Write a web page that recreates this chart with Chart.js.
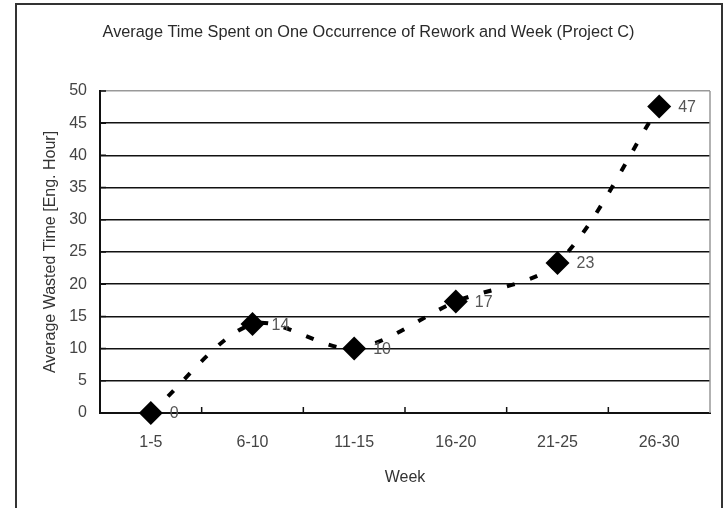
<!DOCTYPE html>
<html>
<head>
<meta charset="utf-8">
<script src="https://cdn.jsdelivr.net/npm/chart.js@4"></script>
<style>
html,body{margin:0;padding:0;background:#fff;}
canvas{display:block;}
</style>
</head>
<body>
<canvas id="c" width="725" height="508"></canvas>
<script>
const categories = ['1-5', '6-10', '11-15', '16-20', '21-25', '26-30'];
const wastedTime = [0, 13.8, 10, 17.3, 23.3, 47.6];
const pointLabels = ['0', '14', '10', '17', '23', '47'];
const yTicks = [0, 5, 10, 15, 20, 25, 30, 35, 40, 45, 50];

const FONT = "'Liberation Sans', Arial, sans-serif";

const framePlugin = {
  id: 'frame',
  beforeDraw(chart) {
    const ctx = chart.ctx;
    ctx.save();
    ctx.fillStyle = '#fff';
    ctx.fillRect(0, 0, chart.width, chart.height);
    ctx.strokeStyle = '#333';
    ctx.lineWidth = 2;
    ctx.beginPath();
    ctx.moveTo(16, chart.height);
    ctx.lineTo(16, 4);
    ctx.lineTo(722, 4);
    ctx.lineTo(722, chart.height);
    ctx.stroke();
    ctx.restore();
  },
  beforeDatasetsDraw(chart) {
    const ctx = chart.ctx;
    const a = chart.chartArea;
    const xs = chart.scales.x;
    const ys = chart.scales.y;
    ctx.save();
    ctx.strokeStyle = '#999';
    ctx.lineWidth = 1.5;
    ctx.beginPath();
    ctx.moveTo(a.right, a.top);
    ctx.lineTo(a.right, a.bottom);
    ctx.stroke();
    ctx.strokeStyle = '#111';
    ctx.lineWidth = 1.5;
    ctx.beginPath();
    for (let i = 1; i < categories.length; i++) {
      const x = (xs.getPixelForTick(i - 1) + xs.getPixelForTick(i)) / 2;
      ctx.moveTo(x, a.bottom);
      ctx.lineTo(x, a.bottom - 6);
    }
    yTicks.forEach(v => {
      const y = ys.getPixelForValue(v);
      ctx.moveTo(a.left, y);
      ctx.lineTo(a.left + 6, y);
    });
    ctx.stroke();
    ctx.restore();
  },
  afterDatasetsDraw(chart) {
    const ctx = chart.ctx;
    const meta = chart.getDatasetMeta(0);
    ctx.save();
    ctx.font = '16px ' + FONT;
    ctx.fillStyle = '#555';
    ctx.textAlign = 'left';
    ctx.textBaseline = 'middle';
    meta.data.forEach((pt, i) => {
      ctx.fillText(pointLabels[i], pt.x + 19, pt.y + 1);
    });
    ctx.restore();
  }
};

new Chart(document.getElementById('c'), {
  type: 'line',
  data: {
    labels: categories,
    datasets: [{
      data: wastedTime,
      clip: false,
      borderColor: '#000',
      borderWidth: 4,
      borderDash: [8, 16],
      borderCapStyle: 'butt',
      tension: 0.3,
      fill: false,
      pointStyle: 'rectRot',
      pointRadius: 12,
      pointHoverRadius: 12,
      pointBackgroundColor: '#000',
      pointBorderColor: '#000',
      pointBorderWidth: 0
    }]
  },
  options: {
    responsive: false,
    animation: false,
    events: [],
    layout: { padding: { left: 27, right: 15, top: 0, bottom: 0 } },
    plugins: {
      legend: { display: false },
      tooltip: { enabled: false },
      title: {
        display: true,
        text: 'Average Time Spent on One Occurrence of Rework and Week (Project C)',
        color: '#2a2a2a',
        font: { family: FONT, size: 16.3, weight: 'normal', lineHeight: 1.2 },
        padding: { top: 23.2, bottom: 48.2 }
      }
    },
    scales: {
      x: {
        type: 'category',
        offset: true,
        afterFit(scale) { scale.height = 95; },
        grid: { display: false, drawTicks: false },
        border: { display: true, color: '#111', width: 2 },
        ticks: {
          color: '#444',
          padding: 20.4,
          font: { family: FONT, size: 16, lineHeight: 1.2 }
        },
        title: {
          display: true,
          text: 'Week',
          color: '#333',
          font: { family: FONT, size: 16, lineHeight: 1.2 },
          padding: { top: 0, bottom: 20.4 }
        }
      },
      y: {
        min: 0,
        max: 50,
        afterFit(scale) { scale.width = 73; },
        afterBuildTicks(scale) { scale.ticks = yTicks.map(v => ({ value: v })); },
        grid: {
          drawTicks: false,
          color: ctx => (ctx.tick && ctx.tick.value === 50) ? '#999' : '#111',
          lineWidth: 1.5
        },
        border: { display: true, color: '#111', width: 2 },
        ticks: {
          color: '#444',
          padding: 13,
          font: { family: FONT, size: 16, lineHeight: 1.2 }
        },
        title: {
          display: true,
          text: 'Average Wasted Time [Eng. Hour]',
          color: '#333',
          font: { family: FONT, size: 16, lineHeight: 1.2 },
          padding: { top: 14, bottom: 0 }
        }
      }
    }
  },
  plugins: [framePlugin]
});
</script>
</body>
</html>
